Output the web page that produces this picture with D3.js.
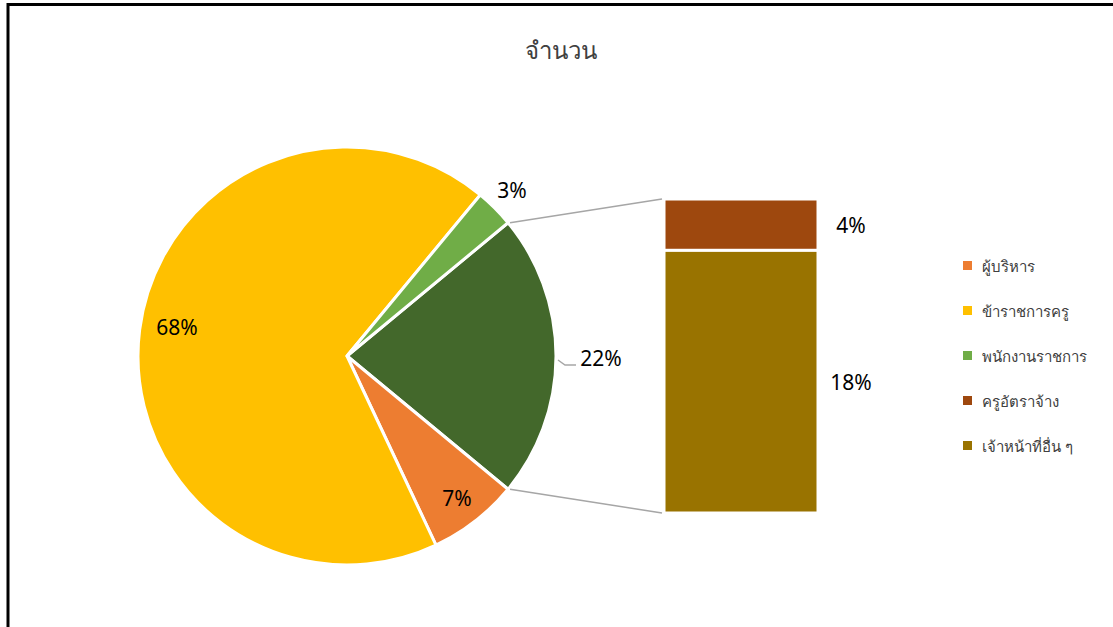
<!DOCTYPE html>
<html>
<head>
<meta charset="utf-8">
<script src="https://cdn.jsdelivr.net/npm/d3@7"></script>
<style>
  body { margin: 0; background: #fff; }
  svg { display: block; font-family: "Noto Sans", "Liberation Sans", sans-serif; }
</style>
</head>
<body>
<div id="chart"></div>
<script>
// data (percent)
const pieCats = ["ผู้บริหาร", "ข้าราชการครู", "พนักงานราชการ"];
const pieVals = [7, 68, 3];
const barCats = ["ครูอัตราจ้าง", "เจ้าหน้าที่อื่น ๆ"];
const barVals = [3.6, 18.4];
const allCats = pieCats.concat(barCats);
const colors = ["#ED7D31", "#FFC000", "#70AD47", "#9E480E", "#997300"];
const otherColor = "#43682B";

const width = 1113, height = 627;
const svg = d3.select("#chart").append("svg")
    .attr("width", width).attr("height", height);

// frame
svg.append("path")
    .attr("d", `M8,${height + 5} L8,4.5 L${width + 5},4.5`)
    .attr("fill", "none").attr("stroke", "#000").attr("stroke-width", 3);

svg.append("text")
    .attr("x", 561).attr("y", 59)
    .attr("text-anchor", "middle")
    .attr("font-size", 24).attr("fill", "#404040")
    .text("จำนวน");

const fill = d3.scaleOrdinal().domain(allCats).range(colors);

/* PIE */
const cx = 347, cy = 356, r = 209;
const otherVal = d3.sum(barVals);
const total = d3.sum(pieVals) + otherVal;
const otherAng = otherVal / total * 2 * Math.PI;

// other slice centred on 3 o'clock, the rest clockwise after it
const pieData = [{name: "other", value: otherVal}]
    .concat(pieCats.map((c, i) => ({name: c, value: pieVals[i]})));
const pie = d3.pie().sort(null).value(d => d.value)
    .startAngle(Math.PI / 2 - otherAng / 2)
    .endAngle(Math.PI / 2 - otherAng / 2 + 2 * Math.PI);
const arcs = pie(pieData);
const arc = d3.arc().innerRadius(0).outerRadius(r);

const g = svg.append("g").attr("transform", `translate(${cx},${cy})`);
g.selectAll("path").data(arcs).enter().append("path")
    .attr("d", arc)
    .attr("fill", d => d.data.name === "other" ? otherColor : fill(d.data.name))
    .attr("stroke", "#fff").attr("stroke-width", 3)
    .attr("stroke-linejoin", "round");

/* BAR */
const barX = 664, barW = 154, barTop = 199, barBot = 513;
const yScale = d3.scaleLinear().domain([0, otherVal]).range([barBot, barTop]);
let acc = otherVal;
const barData = barCats.map((c, i) => {
    const top = acc; acc -= barVals[i];
    return {name: c, value: barVals[i], y0: top, y1: acc};
});
svg.selectAll("rect.bar").data(barData).enter().append("rect")
    .attr("class", "bar")
    .attr("x", barX).attr("width", barW)
    .attr("y", d => yScale(d.y0))
    .attr("height", d => yScale(d.y1) - yScale(d.y0))
    .attr("fill", d => fill(d.name))
    .attr("stroke", "#fff").attr("stroke-width", 3);

// connector lines
const oa = arcs[0];
const p1 = [cx + r * Math.sin(oa.startAngle), cy - r * Math.cos(oa.startAngle)];
const p2 = [cx + r * Math.sin(oa.endAngle), cy - r * Math.cos(oa.endAngle)];
svg.append("line").attr("x1", p1[0] + 2).attr("y1", p1[1]).attr("x2", barX - 2).attr("y2", barTop)
    .attr("stroke", "#A6A6A6").attr("stroke-width", 1.5);
svg.append("line").attr("x1", p2[0] + 2).attr("y1", p2[1]).attr("x2", barX - 2).attr("y2", barBot)
    .attr("stroke", "#A6A6A6").attr("stroke-width", 1.5);

/* LABELS */
const fmt = v => Math.round(v) + "%";
const labelPos = {
    "other": [601, 358],
    "ผู้บริหาร": [457, 498],
    "ข้าราชการครู": [177, 327],
    "พนักงานราชการ": [512, 190]
};
arcs.forEach(d => {
    const p = labelPos[d.data.name];
    svg.append("text")
        .attr("x", p[0]).attr("y", p[1])
        .attr("text-anchor", "middle").attr("dominant-baseline", "central")
        .attr("font-size", 21).attr("fill", "#000")
        .text(fmt(d.data.value));
});
// leader for 22%
svg.append("path")
    .attr("d", "M558,360 L565,365 L576,365")
    .attr("fill", "none").attr("stroke", "#A6A6A6").attr("stroke-width", 1.5);

barData.forEach(d => {
    svg.append("text")
        .attr("x", barX + barW + 33).attr("y", (yScale(d.y0) + yScale(d.y1)) / 2)
        .attr("text-anchor", "middle").attr("dominant-baseline", "central")
        .attr("font-size", 21).attr("fill", "#000")
        .text(fmt(d.value));
});

/* LEGEND */
const legend = svg.append("g").attr("transform", "translate(963,266)");
allCats.forEach((c, i) => {
    legend.append("rect")
        .attr("x", 0).attr("y", i * 45 - 5)
        .attr("width", 9).attr("height", 9)
        .attr("fill", fill(c));
    legend.append("text")
        .attr("x", 19).attr("y", i * 45)
        .attr("dominant-baseline", "central")
        .attr("font-size", 15).attr("fill", "#404040")
        .text(c);
});
</script>
</body>
</html>
